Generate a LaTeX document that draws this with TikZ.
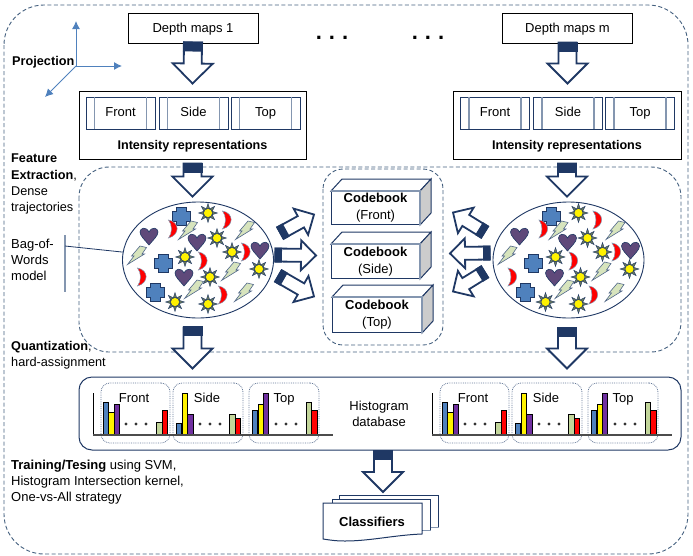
\documentclass[tikz,border=0pt]{standalone}
\usepackage{fontspec}
\setmainfont{Liberation Sans}
\usetikzlibrary{calc,shapes.geometric,arrows.meta}

\definecolor{navy}{HTML}{1F3864}
\definecolor{dashc}{HTML}{44607F}
\definecolor{steel}{HTML}{8496B0}
\definecolor{axisc}{HTML}{4F81BD}
\definecolor{crossc}{HTML}{4F81BD}
\definecolor{heartc}{HTML}{5F497A}
\definecolor{boltc}{HTML}{D7E4BD}
\definecolor{rayc}{HTML}{66775F}
\definecolor{purpc}{HTML}{7030A0}
\definecolor{greenc}{HTML}{C3D69B}

\tikzset{
pics/heartpic/.style={code={
\filldraw[draw=navy,fill=heartc,line width=0.6] (0,9) .. controls (-4,4) and (-9,0) .. (-9,-4) .. controls (-9,-8) and (-3,-10) .. (0,-4) .. controls (3,-10) and (9,-8) .. (9,-4) .. controls (9,0) and (4,4) .. (0,9) -- cycle;
}},
pics/crosspic/.style={code={
\filldraw[draw=navy,fill=crossc,line width=0.8] (-5,-9) -- (5,-9) -- (5,-5) -- (9,-5) -- (9,5) -- (5,5) -- (5,9) -- (-5,9) -- (-5,5) -- (-9,5) -- (-9,-5) -- (-5,-5) -- cycle;
}},
pics/moonpic/.style={code={
\filldraw[draw=steel,fill=red,line width=0.5] (-3.5,-9) .. controls (8,-7) and (8,6) .. (-3.5,9) .. controls (0.5,4) and (0.5,-4) .. (-3.5,-9) -- cycle;
}},
pics/sunpic/.style={code={
\foreach \a in {0,45,...,315}
\filldraw[draw=navy,fill=rayc,line width=0.4] (\a:9.5) -- (\a+22:4.5) -- (\a-22:4.5) -- cycle;
\filldraw[draw=navy,fill=yellow,line width=0.5] (0,0) circle (4.5);
}},
pics/boltpic/.style={code={
\filldraw[draw=steel!50!navy,fill=boltc,line width=0.6] (3,-9) -- (9.5,-7.5) -- (5,-1) -- (7.5,-1) -- (-9.5,9.5) -- (-3,1) -- (-5.5,1) -- cycle;
}},
pics/bagwords/.style={code={
\foreach \px/\py in {-17/-44,-35/3,-43/32} \pic at (\px,\py) {crosspic};
\foreach \px/\py in {-49/-24,-1/-18,-14/17,62/-10} \pic at (\px,\py) {heartpic};
\foreach \px/\py in {-26/-31,28/-40,47/-8,4/1,-57/17,24/35} \pic at (\px,\py) {moonpic};
\foreach \px/\py in {10/-47,19/-22,34/-8,-13/-3,12/17,61/9,-23/42,10/44} \pic at (\px,\py) {sunpic};
\foreach \px/\py in {-10/-30,47/-30,-61/-5,33/11,-4/29,46/32} \pic at (\px,\py) {boltpic};
}},
pics/arrowpic/.style n args={2}{code={
\filldraw[draw=navy,fill=white,line width=1.8,miter limit=10] (0,-#2) -- ({#1-2*#2-2},-#2) -- ({#1-2*#2-2},{-2*#2-2}) -- (#1,0) -- ({#1-2*#2-2},{2*#2+2}) -- ({#1-2*#2-2},#2) -- (0,#2) -- cycle;
\fill[navy] (-1,{-#2-1}) rectangle ({#2},{#2+1});
}},
pics/histset/.style={code={
\node[dotbox] (-fr) at (135.5,413) {};
\node[dotbox,minimum width=70] (-sd) at (208,413) {};
\node[dotbox,minimum width=70] (-tp) at (284,413) {};
\foreach \xb/\tb/\cb in {103.3/402/crossc,108.7/412/yellow,114.3/404/purpc,156.7/422/greenc,162.3/410/red,
176.3/423/crossc,182/393/yellow,187.7/414/purpc,229.5/414/greenc,235.3/418/red,
252.3/410/crossc,258/404/yellow,263.3/393/purpc,306.3/402/greenc,311.7/410/red}
\filldraw[draw=black,fill=\cb,line width=0.8] (\xb,435) rectangle ({\xb+5.5},\tb);
\foreach \xd in {126,136,146,200,210,220,276,286,296}
\fill[black!80] (\xd,424) circle (1.6);
\draw[black,line width=0.8] (93,393) -- (93,435);
\draw[black!70,line width=1.3] (93,435) -- (333,435);
\node[text height=9.5,text depth=2.5] (-lf) at (134,399) {Front};
\node[text height=9.5,text depth=2.5] (-ls) at (207,399) {Side};
\node[text height=9.5,text depth=2.5] (-lt) at (284,399) {Top};
}}
}

\newcommand{\blockarr}[3]{
\path let \p1=($#2-#1$), \n1={atan2(\y1,\x1)}, \n2={veclen(\x1,\y1)} in
pic[rotate=\n1] at #1 {arrowpic={\n2}{#3}};
}

\begin{document}
\begin{tikzpicture}[x=1pt,y=-1pt,every node/.style={inner sep=0,font=\fontsize{13}{16}\selectfont}]
\tikzstyle{dashbox}=[draw=dashc,line width=0.9,dash pattern=on 4pt off 2.5pt]
\tikzstyle{plainbox}=[draw=black,line width=1,minimum width=130,minimum height=30,text height=10,text depth=0.5]
\tikzstyle{viewbox}=[draw=navy,line width=0.9,minimum width=69,minimum height=32,text height=9.5,text depth=2.5]
\tikzstyle{viewline}=[draw=steel,line width=1.6]
\tikzstyle{cube}=[draw=navy,line width=1,fill=white,align=center,anchor=north west]
\tikzstyle{dotbox}=[draw=steel!70!navy,line width=0.8,densely dotted,rounded corners=9,minimum width=69,minimum height=60]
\tikzstyle{lab}=[align=left,anchor=north west]
\tikzstyle{narrowlab}=[align=left,anchor=north west,font=\fontsize{12.7}{16.2}\selectfont]
\tikzstyle{gapdots}=[font=\fontsize{22}{22}\selectfont\bfseries]
\tikzstyle{sheet}=[draw=navy,line width=1,fill=white]
\useasboundingbox (0,0) rectangle (693,555);

\draw[dashbox,rounded corners=40] (4,5) rectangle (688,554);
\draw[dashbox,rounded corners=30] (79,167) rectangle (681,352);
\draw[dashbox,rounded corners=20] (323,169) rectangle (443,345);

\node[plainbox] (dm1) at (193,28) {Depth maps 1};
\node[plainbox] (dm2) at (567.5,28) {Depth maps m};
\node[gapdots] (gap1) at (332,38) {.\kern7pt.\kern7pt.};
\node[gapdots] (gap2) at (428,38) {.\kern7pt.\kern7pt.};

\node[draw=black,line width=1,minimum width=227,minimum height=68] (ir1) at (192.5,125) {};
\node[draw=black,line width=1,minimum width=228,minimum height=68] (ir2) at (567,125) {};
\node[font=\fontsize{12.6}{16}\selectfont\bfseries] (irt1) at (192.5,146) {Intensity representations};
\node[font=\fontsize{12.6}{16}\selectfont\bfseries] (irt2) at (567,146) {Intensity representations};
\foreach \nm/\xc/\txt in {fa/120.5/Front,sa/193.5/Side,ta/265.5/Top,fb/495/Front,sb/568/Side,tb/640/Top}{
\node[viewbox] (\nm) at (\xc,113) {\txt};
\draw[viewline] ([xshift=9]\nm.north west) -- ([xshift=9]\nm.south west);
\draw[viewline] ([xshift=-9]\nm.north east) -- ([xshift=-9]\nm.south east);
}

\coordinate (orig) at (76,66);
\coordinate (axup) at (76,21);
\coordinate (axrt) at (122,66);
\coordinate (axdn) at (45,97);
\draw[axisc,line width=1,-{Latex[length=8,width=8]}] (orig) -- (axup);
\draw[axisc,line width=1,-{Latex[length=8,width=8]}] (orig) -- (axrt);
\draw[axisc,line width=1,-{Latex[length=8,width=8]}] (orig) -- (axdn);

\node[narrowlab] (proj) at (12,56) {\textbf{Projection}};
\node[narrowlab] (feat) at (11,154) {\textbf{Feature}\\\textbf{Extraction},\\Dense\\trajectories};
\node[lab] (bow) at (11,239) {Bag-of-\\Words\\model};
\node[narrowlab] (quant) at (11,341) {\textbf{Quantization},\\hard-assignment};
\node[lab] (train) at (11,460) {\textbf{Training/Tesing} using SVM,\\Histogram Intersection kernel,\\One-vs-All strategy};

\node[draw=navy,line width=0.9,ellipse,minimum width=151,minimum height=116] (bowl1) at (198,260) {};
\node[draw=navy,line width=0.9,ellipse,minimum width=151,minimum height=116] (bowl2) at (568.5,260) {};
\pic at (bowl1.center) {bagwords};
\pic at (bowl2.center) {bagwords};

\coordinate (bartop) at (65,235);
\coordinate (barbot) at (65,292);
\coordinate (barmid) at (65,246);
\draw[viewline] (bartop) -- (barbot);
\draw[navy,line width=0.8] (barmid) -- (bowl1.174);

\foreach \nm/\xl/\yt/\bh/\bw/\txt in {cbf/331/191/33/88/Front,cbs/331/244/34/88/Side,cbt/332/297/35/89/Top}{
\node[cube,minimum width=\bw,minimum height=\bh] (\nm) at (\xl,\yt) {\textbf{Codebook}\\[1pt](\txt)};
\filldraw[draw=navy,line width=1,fill=white] (\nm.north west) -- ++(11,-12) -- ($(\nm.north east)+(11,-12)$) -- (\nm.north east) -- cycle;
\filldraw[draw=navy,line width=1,fill=black!20] (\nm.north east) -- ++(11,-12) -- ($(\nm.south east)+(11,-12)$) -- (\nm.south east) -- cycle;
\draw[steel,line width=1.2] (\nm.north west) -- (\nm.north east) -- (\nm.south east);
}

\node[draw=navy,line width=1,rounded corners=13,minimum width=602,minimum height=73] (hist) at (380,413.5) {};
\pic (hl) at (0,0) {histset};
\pic (hr) at (339,0) {histset};
\node[align=center] (histdb) at (379,414) {Histogram\\database};

\node[sheet,minimum width=99,minimum height=32,draw=navy] (cls3) at (388.5,511) {};
\node[sheet,minimum width=98,minimum height=31] (cls2) at (381,514.5) {};
\draw[steel,line width=1.4] (cls3.south west -| cls2.east) -- (cls3.south east);
\draw[steel,line width=1.4] ($(cls2.south east)+(-8,0)$) -- (cls2.south east);
\filldraw[draw=navy,line width=1,fill=white] (323,503) -- (422,503) -- (422,534) .. controls (395,535) and (370,541) .. (345,541) .. controls (335,541) and (330,540) .. (323,539) -- cycle;
\node[font=\fontsize{13}{16}\selectfont\bfseries] (cls1) at (372,522) {Classifiers};

\blockarr{($(dm1.south)+(0,-1)$)}{($(ir1.north)+(0,-7)$)}{9}
\blockarr{($(dm2.south)+(0,-1)$)}{($(ir2.north -| dm2)+(0,-7)$)}{9}
\blockarr{($(ir1.south)+(0,4)$)}{($(bowl1.north -| ir1)+(0,-5)$)}{9}
\blockarr{($(ir2.south)+(0,4)$)}{($(bowl2.north -| ir2)+(0,-5)$)}{9}
\blockarr{($(bowl1.south -| ir1)+(0,9)$)}{($(hist.north -| ir1)+(0,-8)$)}{9}
\blockarr{($(bowl2.south -| ir2)+(0,10)$)}{($(hist.north -| ir2)+(0,-8)$)}{9}
\coordinate (clsout) at (383,451);
\coordinate (clsin) at (383,492);
\blockarr{(clsout)}{(clsin)}{9}

\foreach \bk/\sx/\sy/\cb/\ex/\ey in {bowl1.east/6.5/-27/cbf.west/-17/6.5,bowl1.east/1.5/-5/cbs.west/-15/-6,bowl1.east/4.5/16/cbt.west/-18/-18.5,bowl2.west/-8/-28/cbf.east/33/4.5,bowl2.west/-3/-7/cbs.east/30/-8,bowl2.west/-8/12/cbt.east/31/-23.5}{
\blockarr{($(\bk)+(\sx,\sy)$)}{($(\cb)+(\ex,\ey)$)}{6.5}
}
\end{tikzpicture}
\end{document}
